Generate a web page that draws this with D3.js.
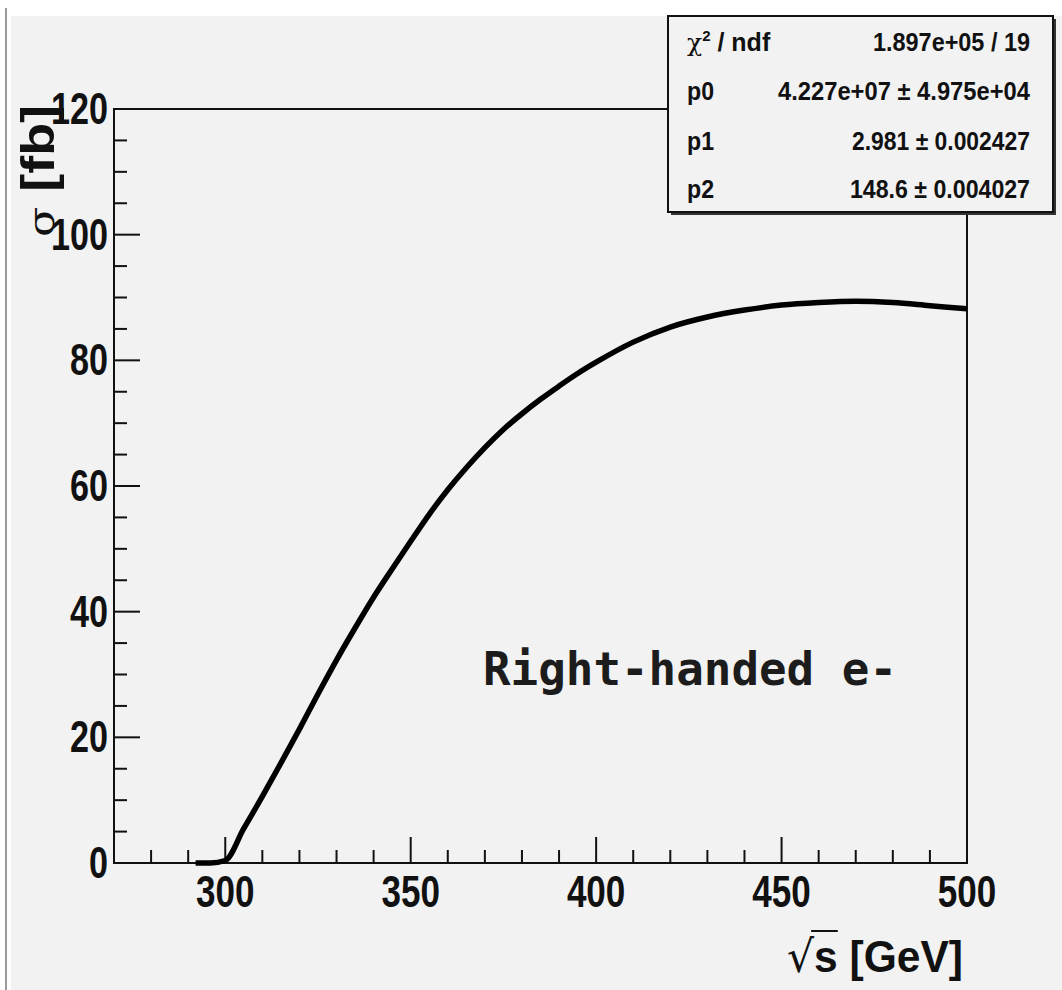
<!DOCTYPE html>
<html>
<head>
<meta charset="utf-8">
<script src="https://cdn.jsdelivr.net/npm/d3@7"></script>
<style>
  body { margin: 0; background: #ffffff; }
  svg { display: block; }
</style>
</head>
<body>
<div id="chart"></div>
<script>
// values
var sqrtS = [292, 296, 300, 305, 310, 315, 320, 325, 330, 335, 340, 345, 350, 355, 360, 365, 370, 375, 380, 385, 390, 395, 400, 410, 420, 430, 440, 450, 460, 470, 480, 490, 500];
var sigma = [0, 0, 0.4, 5.5, 10.6, 15.9, 21.3, 26.9, 32.3, 37.4, 42.3, 46.8, 51.2, 55.5, 59.4, 62.9, 66.1, 69.0, 71.5, 73.8, 75.9, 77.9, 79.7, 82.9, 85.3, 86.9, 88.0, 88.8, 89.2, 89.4, 89.2, 88.7, 88.2];

var xTicks = [300, 350, 400, 450, 500];
var yTicks = [0, 20, 40, 60, 80, 100, 120];

var statNames = ["χ2 / ndf", "p0", "p1", "p2"];
var statValues = ["1.897e+05 / 19", "4.227e+07 ± 4.975e+04", "2.981 ± 0.002427", "148.6 ± 0.004027"];

var w = 1062, h = 990;
var padL = 114, padT = 109, padR = 967, padB = 863;
var ink = "#111";

var svg = d3.select("#chart")
    .append("svg")
    .attr("width", w)
    .attr("height", h);

// canvas background
svg.append("rect")
    .attr("x", 11).attr("y", 16)
    .attr("width", w - 11).attr("height", h - 16)
    .attr("fill", "#f2f2f2");
svg.append("line")
    .attr("x1", 6).attr("x2", 6)
    .attr("y1", 8).attr("y2", h)
    .attr("stroke", "#9a9a9a")
    .attr("stroke-width", 2);

var x = d3.scaleLinear().domain([270, 500]).range([padL, padR]);
var y = d3.scaleLinear().domain([0, 120]).range([padB, padT]);

// frame
svg.append("rect")
    .attr("x", padL).attr("y", padT)
    .attr("width", padR - padL).attr("height", padB - padT)
    .attr("fill", "none")
    .attr("stroke", ink)
    .attr("stroke-width", 2);

// x ticks: minor every 10, major every 50
var xMinor = d3.range(280, 500, 10);
svg.selectAll("line.xtick")
    .data(xMinor)
    .enter()
    .append("line")
    .attr("class", "xtick")
    .attr("x1", function(d) { return x(d); })
    .attr("x2", function(d) { return x(d); })
    .attr("y1", padB)
    .attr("y2", function(d) { return d % 50 === 0 ? padB - 26 : padB - 13; })
    .attr("stroke", ink)
    .attr("stroke-width", 2);

// y ticks: minor every 5, major every 20
var yMinor = d3.range(5, 120, 5);
svg.selectAll("line.ytick")
    .data(yMinor)
    .enter()
    .append("line")
    .attr("class", "ytick")
    .attr("y1", function(d) { return y(d); })
    .attr("y2", function(d) { return y(d); })
    .attr("x1", padL)
    .attr("x2", function(d) { return d % 20 === 0 ? padL + 26 : padL + 13; })
    .attr("stroke", ink)
    .attr("stroke-width", 2);

svg.selectAll("text.xlab")
    .data(xTicks)
    .enter()
    .append("text")
    .attr("class", "xlab")
    .text(function(d) { return d; })
    .attr("x", function(d) { return x(d); })
    .attr("y", 907)
    .attr("text-anchor", "middle")
    .attr("font-family", "Liberation Sans, Arial, sans-serif")
    .attr("font-weight", "bold")
    .attr("font-size", "44px")
    .attr("textLength", function(d) { return String(d).length * 19.5; })
    .attr("lengthAdjust", "spacingAndGlyphs")
    .attr("fill", ink);

svg.selectAll("text.ylab")
    .data(yTicks)
    .enter()
    .append("text")
    .attr("class", "ylab")
    .text(function(d) { return d; })
    .attr("x", 108)
    .attr("y", function(d) { return y(d) + 15; })
    .attr("text-anchor", "end")
    .attr("font-family", "Liberation Sans, Arial, sans-serif")
    .attr("font-weight", "bold")
    .attr("font-size", "44px")
    .attr("textLength", function(d) { return String(d).length * 19; })
    .attr("lengthAdjust", "spacingAndGlyphs")
    .attr("fill", ink);

// axis titles
var yTitle = svg.append("text")
    .attr("transform", "translate(54,105) rotate(-90)")
    .attr("text-anchor", "end")
    .attr("font-family", "Liberation Sans, Arial, sans-serif")
    .attr("font-weight", "bold")
    .attr("font-size", "46px")
    .attr("textLength", 132)
    .attr("lengthAdjust", "spacingAndGlyphs")
    .attr("fill", ink);
yTitle.append("tspan").attr("font-weight", "normal").attr("font-family", "DejaVu Serif, serif").attr("font-size", "38px").text("σ");
yTitle.append("tspan").text(" [fb]");

var xTitle = svg.append("text")
    .attr("x", 963)
    .attr("y", 972)
    .attr("text-anchor", "end")
    .attr("font-family", "Liberation Sans, Arial, sans-serif")
    .attr("font-weight", "bold")
    .attr("font-size", "44px")
    .attr("textLength", 176)
    .attr("lengthAdjust", "spacingAndGlyphs")
    .attr("fill", ink);
xTitle.append("tspan").attr("font-weight", "normal").attr("font-family", "DejaVu Sans, sans-serif").text("√");
xTitle.append("tspan").text("s [GeV]");
var rootBox = xTitle.node().getExtentOfChar(0);
var sBox = xTitle.node().getExtentOfChar(1);
svg.append("line")
    .attr("x1", rootBox.x + rootBox.width - 3)
    .attr("x2", sBox.x + sBox.width)
    .attr("y1", 931).attr("y2", 931)
    .attr("stroke", ink)
    .attr("stroke-width", 2);

// fitted curve
var line = d3.line()
    .x(function(d, i) { return x(sqrtS[i]); })
    .y(function(d) { return y(d); })
    .curve(d3.curveMonotoneX);

svg.append("path")
    .datum(sigma)
    .attr("d", line)
    .attr("fill", "none")
    .attr("stroke", "#000")
    .attr("stroke-width", 5.5);

svg.append("text")
    .text("Right-handed e-")
    .attr("x", 483)
    .attr("y", 685)
    .attr("font-family", "DejaVu Sans Mono, monospace")
    .attr("font-weight", "bold")
    .attr("font-size", "46px")
    .attr("textLength", 414)
    .attr("lengthAdjust", "spacingAndGlyphs")
    .attr("fill", "#1c1c1c");

// stat box
var bx = 668, by = 16, bw = 385, bh = 196;
svg.append("rect")
    .attr("x", bx + 3).attr("y", by + 3)
    .attr("width", bw).attr("height", bh)
    .attr("fill", "#333");
svg.append("rect")
    .attr("x", bx).attr("y", by)
    .attr("width", bw).attr("height", bh)
    .attr("fill", "#f2f2f2")
    .attr("stroke", ink)
    .attr("stroke-width", 2);

var rowY = [51, 100, 150, 198];
var nameLen = [82, 27, 27, 27];
var valueLen = [157, 252, 178, 180];

var names = svg.selectAll("text.sname")
    .data(statNames)
    .enter()
    .append("text")
    .attr("class", "sname")
    .attr("x", 687)
    .attr("y", function(d, i) { return rowY[i]; })
    .attr("font-family", "Liberation Sans, Arial, sans-serif")
    .attr("font-weight", "bold")
    .attr("font-size", "25px")
    .attr("fill", ink);
names.each(function(d, i) {
    var t = d3.select(this);
    if (i === 0) {
        t.append("tspan").attr("font-weight", "normal").attr("font-family", "DejaVu Serif, serif").text("χ");
        t.append("tspan").attr("font-size", "15px").attr("dy", -10).text("2");
        t.append("tspan").attr("dy", 10).text(" / ndf");
    } else {
        t.text(d).attr("textLength", nameLen[i]).attr("lengthAdjust", "spacingAndGlyphs");
    }
});

svg.selectAll("text.svalue")
    .data(statValues)
    .enter()
    .append("text")
    .attr("class", "svalue")
    .text(function(d) { return d; })
    .attr("x", 1030)
    .attr("y", function(d, i) { return rowY[i]; })
    .attr("text-anchor", "end")
    .attr("font-family", "Liberation Sans, Arial, sans-serif")
    .attr("font-weight", "bold")
    .attr("font-size", "25px")
    .attr("textLength", function(d, i) { return valueLen[i]; })
    .attr("lengthAdjust", "spacingAndGlyphs")
    .attr("fill", ink);
</script>
</body>
</html>
